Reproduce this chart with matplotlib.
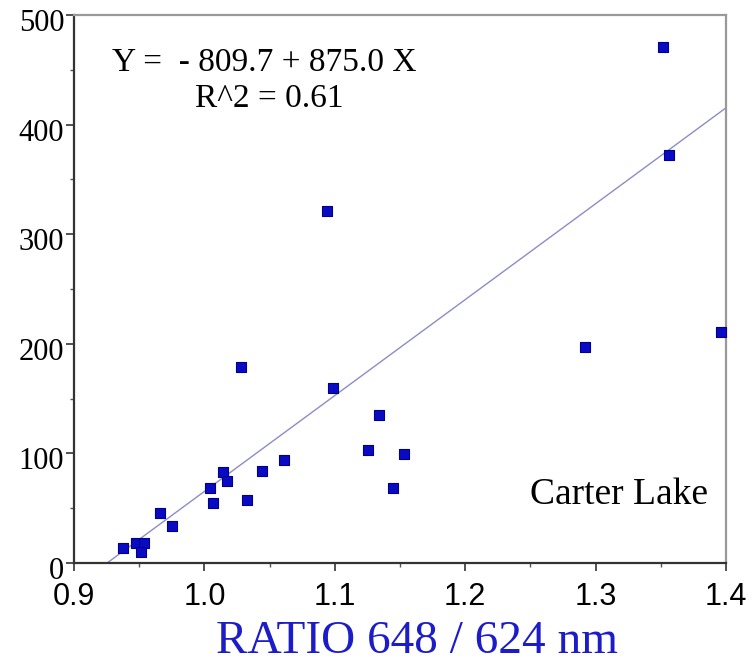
import matplotlib
matplotlib.use('Agg')
import matplotlib.pyplot as plt
import numpy as np
from matplotlib.ticker import MultipleLocator
from matplotlib.transforms import ScaledTranslation

# values
ratio = [0.9376, 0.9475, 0.9537, 0.9514, 0.9660, 0.9749, 1.0043, 1.0068,
         1.0140, 1.0171, 1.0324, 1.0440, 1.0613, 1.0280, 1.0938, 1.0984,
         1.1255, 1.1339, 1.1449, 1.1533, 1.2921, 1.3514, 1.3565, 1.3962]
value = [13.7, 18.2, 18.0, 10.3, 45.9, 33.8, 68.2, 54.5,
         83.3, 74.8, 57.5, 83.9, 94.0, 178.5, 321.4, 159.4,
         102.8, 135.0, 68.2, 99.5, 196.8, 471.0, 372.5, 211.0]
xticks = [0.9, 1.0, 1.1, 1.2, 1.3, 1.4]
yticks = [0, 100, 200, 300, 400, 500]
intercept = -809.7
slope = 875.0
r2 = 0.61

serif = ['Liberation Serif', 'DejaVu Serif']
sans = ['Liberation Sans', 'DejaVu Sans']

fig = plt.figure(figsize=(7.53, 6.65), dpi=100)
ax = fig.add_axes([0.0983, 0.1534, 0.9641 - 0.0983, 0.9774 - 0.1534])

x0 = -intercept / slope
xs = np.array([x0, 1.4])
ax.plot(xs, intercept + slope * xs, color='#8c8cc8', lw=1.0, zorder=2)
ax.scatter(ratio, value, marker='s', s=55, color='#0a0ac4',
           edgecolors='#00008a', linewidths=0.8, zorder=3, clip_on=False)

ax.set_xlim(0.9, 1.4)
ax.set_ylim(0, 500)
ax.set_xticks(xticks, [f'{v:.1f}' for v in xticks], family=sans, fontsize=22)
ax.set_yticks(yticks, [f'{v:d}' for v in yticks], family=serif, fontsize=22)
ax.xaxis.set_minor_locator(MultipleLocator(0.05))
ax.yaxis.set_minor_locator(MultipleLocator(50))
ax.tick_params(which='major', length=6, width=1.2, color='#333333')
ax.tick_params(which='minor', length=3, width=1.0, color='#555555')
ax.tick_params(axis='x', which='major', pad=8)
ax.tick_params(axis='y', which='major', pad=1)

# y labels sit a little below their ticks in the original
shift = ScaledTranslation(0, -0.05, fig.dpi_scale_trans)
for lab in ax.get_yticklabels():
    lab.set_transform(lab.get_transform() + shift)

for side in ['left', 'bottom']:
    ax.spines[side].set_color('#333333')
    ax.spines[side].set_linewidth(1.6)
for side in ['top', 'right']:
    ax.spines[side].set_color('#999999')
    ax.spines[side].set_linewidth(1.6)

ax.text(0.9295, 456, f'Y =  - {abs(intercept):.1f} + {slope:.1f} X',
        family=serif, fontsize=24, va='center', ha='left')
ax.text(1.0495, 424, f'R^2 = {r2:.2f}', family=serif, fontsize=24,
        va='center', ha='center')
ax.text(1.2495, 62, 'Carter Lake', family=serif, fontsize=27,
        va='center', ha='left')

fig.text(417 / 753, 1 - 642 / 665, 'RATIO 648 / 624 nm', family=serif,
         fontsize=34, color='#1c1cc8', ha='center', va='center')

fig.savefig('out.png', dpi=100)
